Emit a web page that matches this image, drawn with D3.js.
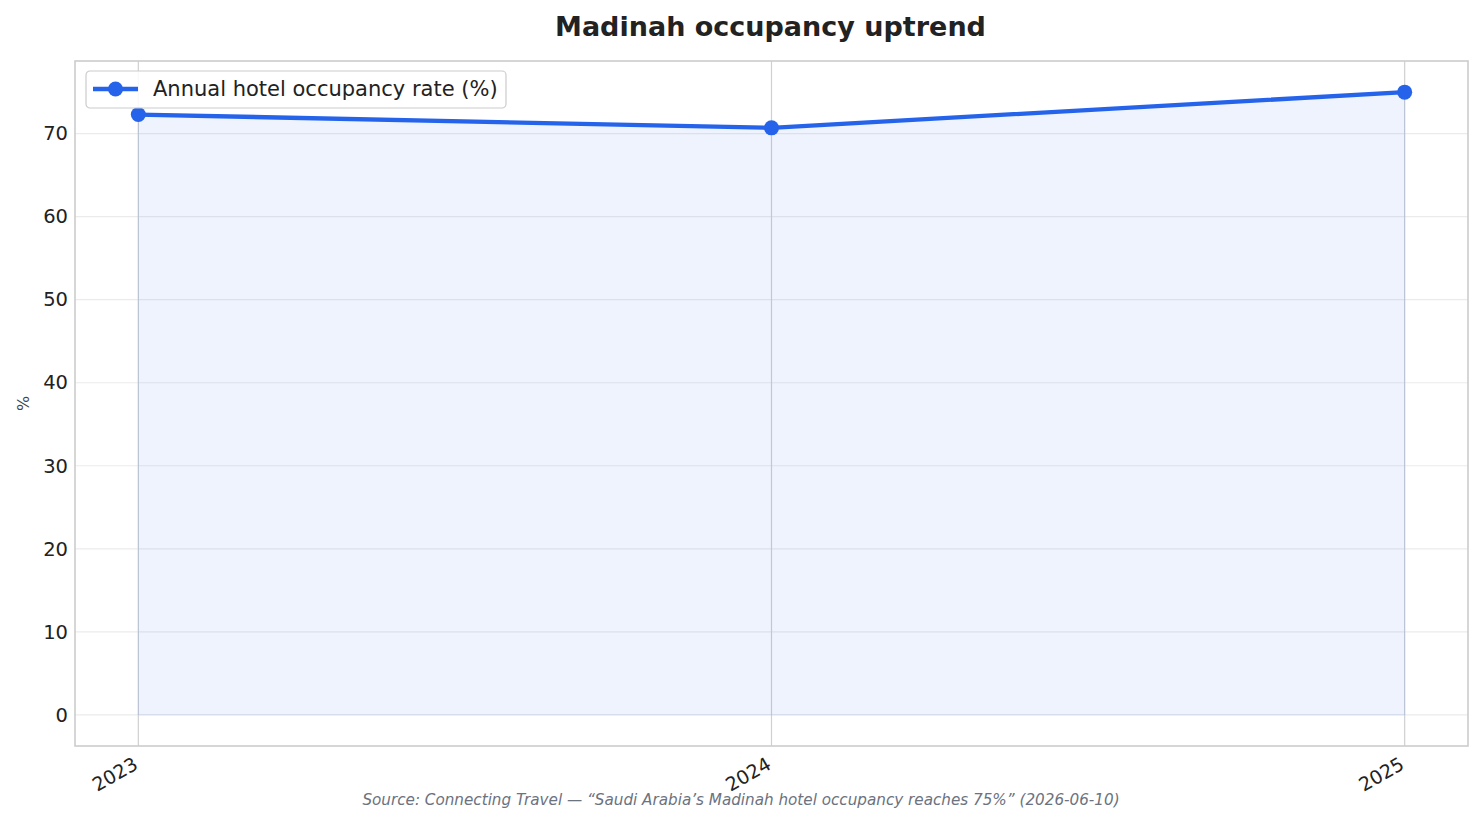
<!DOCTYPE html>
<html>
<head>
<meta charset="utf-8">
<script src="https://cdn.jsdelivr.net/npm/d3@7/dist/d3.min.js"></script>
<style>
  body { margin: 0; background: #fff; }
  svg text { font-family: "DejaVu Sans", sans-serif; }
</style>
</head>
<body>
<svg id="chart" width="1484" height="824"></svg>
<script>
const years = [2023, 2024, 2025];
const occupancy = [72.3, 70.7, 75.0];
const yTicks = [0, 10, 20, 30, 40, 50, 60, 70];
const seriesName = 'Annual hotel occupancy rate (%)';
const titleText = 'Madinah occupancy uptrend';
const sourceText = 'Source: Connecting Travel — “Saudi Arabia’s Madinah hotel occupancy reaches 75%” (2026-06-10)';

const data = years.map((y, i) => ({year: y, value: occupancy[i]}));
const blue = '#2563eb';

const svg = d3.select('#chart');
const margin = {top: 61, right: 16, bottom: 78, left: 75};
const width = +svg.attr('width');
const height = +svg.attr('height');
const innerWidth = width - margin.left - margin.right;
const innerHeight = height - margin.top - margin.bottom;

const xScale = d3.scaleLinear().domain([2022.9, 2025.1]).range([0, innerWidth]);
const yScale = d3.scaleLinear().domain([-3.75, 78.75]).range([innerHeight, 0]);

const g = svg.append('g').attr('transform', `translate(${margin.left}, ${margin.top})`);

// grid
g.append('g').selectAll('line').data(yTicks).enter().append('line')
  .attr('x1', 0).attr('x2', innerWidth)
  .attr('y1', d => yScale(d)).attr('y2', d => yScale(d))
  .attr('stroke', '#ebebeb').attr('stroke-width', 1.2);
g.append('g').selectAll('line').data(years).enter().append('line')
  .attr('x1', d => xScale(d)).attr('x2', d => xScale(d))
  .attr('y1', 0).attr('y2', innerHeight)
  .attr('stroke', '#d0d0d0').attr('stroke-width', 1.2);

// fill
const area = d3.area().x(d => xScale(d.year)).y0(yScale(0)).y1(d => yScale(d.value));
g.append('path').datum(data).attr('d', area)
  .attr('fill', blue).attr('fill-opacity', 0.08)
  .attr('stroke', blue).attr('stroke-opacity', 0.1).attr('stroke-width', 1);

// line
const line = d3.line().x(d => xScale(d.year)).y(d => yScale(d.value));
g.append('path').datum(data).attr('d', line)
  .attr('fill', 'none').attr('stroke', blue).attr('stroke-width', 4.3)
  .attr('stroke-linejoin', 'round');
g.selectAll('circle').data(data).enter().append('circle')
  .attr('cx', d => xScale(d.year)).attr('cy', d => yScale(d.value))
  .attr('r', 7.5).attr('fill', blue);

// frame
g.append('rect').attr('width', innerWidth).attr('height', innerHeight)
  .attr('fill', 'none').attr('stroke', '#cccccc').attr('stroke-width', 1.6);

// axes
const yAxis = g.append('g').call(d3.axisLeft(yScale).tickValues(yTicks).tickSize(0).tickPadding(7));
yAxis.select('.domain').remove();
yAxis.selectAll('text').attr('font-size', 19.5).attr('fill', '#222')
  .attr('font-family', '"DejaVu Sans", sans-serif');

const xAxis = g.append('g').attr('transform', `translate(0, ${innerHeight})`)
  .call(d3.axisBottom(xScale).tickValues(years).tickFormat(d3.format('d')).tickSize(0));
xAxis.select('.domain').remove();
xAxis.selectAll('text')
  .attr('font-size', 19).attr('fill', '#222')
  .attr('font-family', '"DejaVu Sans", sans-serif')
  .attr('text-anchor', 'end')
  .attr('y', null).attr('dy', '0.78em')
  .attr('transform', 'translate(-7, 9) rotate(-30)');

// y label
svg.append('text')
  .attr('transform', `translate(29, ${margin.top + innerHeight / 2}) rotate(-90)`)
  .attr('text-anchor', 'middle').attr('font-size', 16).attr('fill', '#444')
  .text('%');

// title
svg.append('text').attr('x', margin.left + innerWidth / 2 - 1).attr('y', 36)
  .attr('text-anchor', 'middle').attr('font-size', 27).attr('font-weight', 'bold')
  .attr('fill', '#222').text(titleText);

// source
svg.append('text').attr('x', 741).attr('y', 805)
  .attr('text-anchor', 'middle').attr('font-size', 15.2).attr('font-style', 'italic')
  .attr('fill', '#6b7280').text(sourceText);

// legend
const lg = g.append('g').attr('transform', 'translate(11, 10)');
lg.append('rect').attr('width', 420).attr('height', 37).attr('rx', 4)
  .attr('fill', '#fff').attr('fill-opacity', 0.85).attr('stroke', '#cccccc').attr('stroke-width', 1.2);
lg.append('line').attr('x1', 7).attr('x2', 52).attr('y1', 18).attr('y2', 18)
  .attr('stroke', blue).attr('stroke-width', 4.3);
lg.append('circle').attr('cx', 29.5).attr('cy', 18).attr('r', 7.5).attr('fill', blue);
lg.append('text').attr('x', 67).attr('y', 18).attr('dy', '0.35em')
  .attr('font-size', 21).attr('fill', '#222').text(seriesName);
</script>
</body>
</html>
